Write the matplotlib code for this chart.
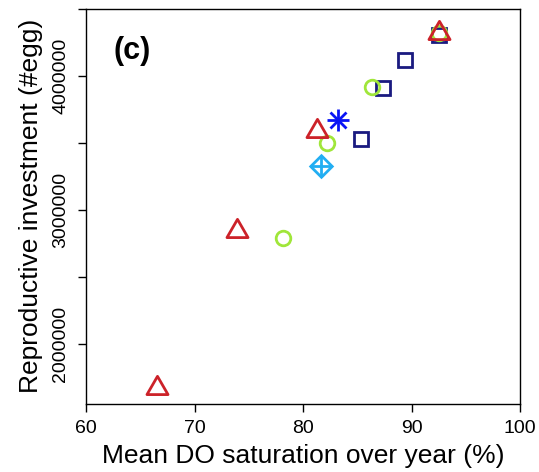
import matplotlib
matplotlib.use("Agg")
import matplotlib.pyplot as plt
from matplotlib.path import Path

plt.rcParams['font.family'] = ['Liberation Sans', 'DejaVu Sans']

# Data
tri_x = [66.5, 73.9, 81.3, 92.5]
tri_y = [1668000, 2845000, 3589000, 4317000]

circ_x = [78.15, 82.25, 86.35, 92.55]
circ_y = [2788000, 3501000, 3918000, 4317000]

sq_x = [85.3, 87.35, 89.4, 92.55]
sq_y = [3531000, 3908000, 4117000, 4309000]

star_x = [83.2]
star_y = [3668000]

diam_x = [81.65]
diam_y = [3326000]

xticks = [60, 70, 80, 90, 100]
yticks = [2000000, 2500000, 3000000, 3500000, 4000000, 4500000]
ytick_labels = ['2000000', '', '3000000', '', '4000000', '']

W, H = 539, 472
fig = plt.figure(figsize=(W / 100, H / 100), dpi=100)
L, R, T, B = 86.0, 520.0, 9.0, 403.5
ax = fig.add_axes([L / W, 1 - B / H, (R - L) / W, (B - T) / H])

ax.set_xlim(60, 100)
ax.set_ylim(1553000, 4500000)

# equilateral triangle path (centroid at origin)
tri_verts = [(0, 0.577), (-0.5, -0.289), (0.5, -0.289), (0, 0.577)]
tri_marker = Path(tri_verts, [Path.MOVETO, Path.LINETO, Path.LINETO, Path.CLOSEPOLY])

red = '#cc2229'
green = '#a0e63a'
navy = '#1a1a80'
blue = '#0a14f5'
sky = '#22aef2'

ax.plot(sq_x, sq_y, ls='none', marker='s', ms=10.6, mfc='none', mec=navy, mew=2.0)
ax.plot(circ_x, circ_y, ls='none', marker='o', ms=10.5, mfc='none', mec=green, mew=2.0)
ax.plot(tri_x, tri_y, ls='none', marker=tri_marker, ms=17.5, mfc='none', mec=red, mew=2.0)
ax.plot(star_x, star_y, ls='none', marker='+', ms=16, mec=blue, mew=2.0)
ax.plot(star_x, star_y, ls='none', marker='x', ms=11.3, mec=blue, mew=2.0)
ax.plot(diam_x, diam_y, ls='none', marker=(4, 0, 0), ms=15.5, mfc='none', mec=sky, mew=2.0)
ax.plot(diam_x, diam_y, ls='none', marker='+', ms=15.5, mec=sky, mew=2.0)

ax.set_xticks(xticks)
ax.set_xticklabels([str(v) for v in xticks])
ax.set_yticks(yticks)
ax.set_yticklabels(ytick_labels, rotation=90, va='center')
ax.tick_params(axis='both', direction='out', length=6, width=1, labelsize=14, colors='black')
ax.tick_params(axis='x', pad=6)
ax.tick_params(axis='y', pad=6)
for s in ax.spines.values():
    s.set_linewidth(1.0)

ax.set_xlabel('Mean DO saturation over year (%)', fontsize=19)
ax.set_ylabel('Reproductive investment (#egg)', fontsize=19)
ax.xaxis.set_label_coords(0.5, (B - 444.0) / (B - T))
ax.yaxis.set_label_coords((43.0 - L) / (R - L), 0.5)

ax.text((132.5 - L) / (R - L), (B - 50.8) / (B - T), '(c)', transform=ax.transAxes,
        fontsize=22, fontweight='bold', ha='center', va='center')

fig.savefig('out.png', dpi=100)
